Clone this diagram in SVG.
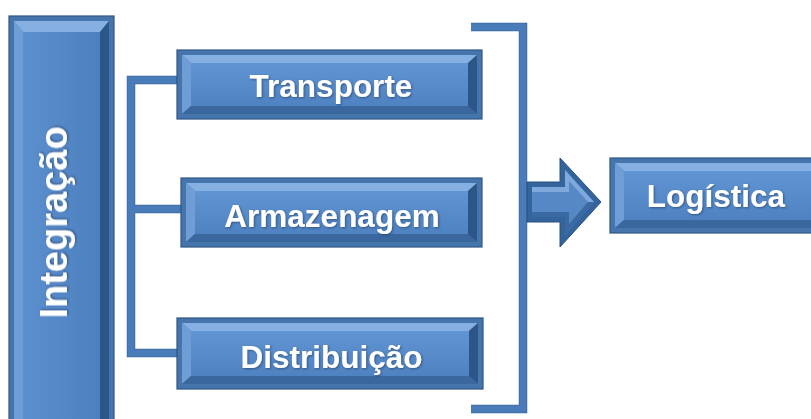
<svg xmlns="http://www.w3.org/2000/svg" width="811" height="419" viewBox="0 0 811 419">
  <defs>
    <linearGradient id="face" x1="0" y1="0" x2="0" y2="1">
      <stop offset="0" stop-color="#6194d2"/>
      <stop offset="1" stop-color="#4f82c0"/>
    </linearGradient>
    <linearGradient id="faceV" x1="0" y1="0" x2="1" y2="0">
      <stop offset="0" stop-color="#5c8fce"/>
      <stop offset="1" stop-color="#4d80be"/>
    </linearGradient>
    <filter id="txtShadow" x="-10%" y="-20%" width="120%" height="140%">
      <feDropShadow dx="1" dy="1" stdDeviation="0.8" flood-color="#1d3555" flood-opacity="0.6"/>
    </filter>
  </defs>
  <style>
    .frame { fill: #4675ad; stroke: #2f5584; stroke-width: 1.2; }
    .bTop { fill: #86b0e2; }
    .bLeft { fill: #6f9dd6; }
    .bRight { fill: #2c5687; }
    .bBottom { fill: #3a679e; }
    .faceH { fill: url(#face); }
    .faceV { fill: url(#faceV); }
    .label { font-family: "Liberation Sans", Arial, sans-serif; font-weight: bold; fill: #ffffff; text-anchor: middle; filter: url(#txtShadow); }
    .wire { fill: none; stroke: #4a7cba; stroke-width: 7; stroke-linejoin: miter; stroke-linecap: butt; }
    .wireEdge { fill: none; stroke: #3a679f; stroke-width: 8.5; stroke-linejoin: miter; stroke-linecap: butt; }
  </style>

  <!-- connectors: side brackets and the arrow -->
  <g id="connectors">
    <path class="wireEdge" d="M177,80 H131 V353 H178 M131,209 H181"/>
    <path class="wire" d="M177,80 H131 V353 H178 M131,209 H181"/>
    <path class="wireEdge" d="M471,27 H523 V409 H471"/>
    <path class="wire" d="M471,27 H523 V409 H471"/>
    <g id="arrow">
      <polygon points="527,182 560,182 560,158 601,202 560,247 560,222 527,222" fill="#34649c" stroke="#2a5080" stroke-width="1"/>
      <polygon points="532,187 565,187 565,170 594,202 565,235 565,217 532,217" fill="#5688c6"/>
      <polygon points="532,187 565,187 565,170 594,202 588,202 569,181 569,192 532,192" fill="#7fa9dc"/>
      <polygon points="532,212 569,212 569,224 588,202 594,202 565,235 565,217 532,217" fill="#3b6aa2"/>
    </g>
  </g>

  <!-- Integração -->
  <g id="integracao">
    <rect class="frame" x="9" y="16" width="105" height="420"/>
    <polygon class="bTop" points="14,21 109,21 100,32 23,32"/>
    <polygon class="bLeft" points="14,21 23,32 23,440 14,440"/>
    <polygon class="bRight" points="109,21 109,440 100,440 100,32"/>
    <rect class="faceV" x="23" y="32" width="77" height="408"/>
    <text class="label" font-size="38" transform="translate(67,222.5) rotate(-90)">Integração</text>
  </g>

  <!-- Transporte -->
  <g id="transporte">
    <rect class="frame" x="177" y="50" width="305" height="69"/>
    <polygon class="bTop" points="182,55 477,55 468,63 191,63"/>
    <polygon class="bLeft" points="182,55 191,63 191,106 182,114"/>
    <polygon class="bRight" points="477,55 477,114 468,106 468,63"/>
    <polygon class="bBottom" points="182,114 191,106 468,106 477,114"/>
    <rect class="faceH" x="191" y="63" width="277" height="43"/>
    <text class="label" x="331" y="97" font-size="31.5">Transporte</text>
  </g>

  <!-- Armazenagem -->
  <g id="armazenagem">
    <rect class="frame" x="181" y="178" width="301" height="69"/>
    <polygon class="bTop" points="186,183 477,183 468,191 195,191"/>
    <polygon class="bLeft" points="186,183 195,191 195,234 186,242"/>
    <polygon class="bRight" points="477,183 477,242 468,234 468,191"/>
    <polygon class="bBottom" points="186,242 195,234 468,234 477,242"/>
    <rect class="faceH" x="195" y="191" width="273" height="43"/>
    <text class="label" x="332" y="227" font-size="31.5">Armazenagem</text>
  </g>

  <!-- Distribuição -->
  <g id="distribuicao">
    <rect class="frame" x="177" y="318" width="306" height="71"/>
    <polygon class="bTop" points="182,323 478,323 469,331 191,331"/>
    <polygon class="bLeft" points="182,323 191,331 191,376 182,384"/>
    <polygon class="bRight" points="478,323 478,384 469,376 469,331"/>
    <polygon class="bBottom" points="182,384 191,376 469,376 478,384"/>
    <rect class="faceH" x="191" y="331" width="278" height="45"/>
    <text class="label" x="331.5" y="368" font-size="31.5">Distribuição</text>
  </g>

  <!-- Logística -->
  <g id="logistica">
    <rect class="frame" x="610" y="158" width="215" height="75"/>
    <polygon class="bTop" points="615,163 820,163 811,171 624,171"/>
    <polygon class="bLeft" points="615,163 624,171 624,220 615,228"/>
    <polygon class="bBottom" points="615,228 624,220 811,220 820,228"/>
    <rect class="faceH" x="624" y="171" width="200" height="49"/>
    <text class="label" x="716" y="207" font-size="31.5">Logística</text>
  </g>
</svg>
